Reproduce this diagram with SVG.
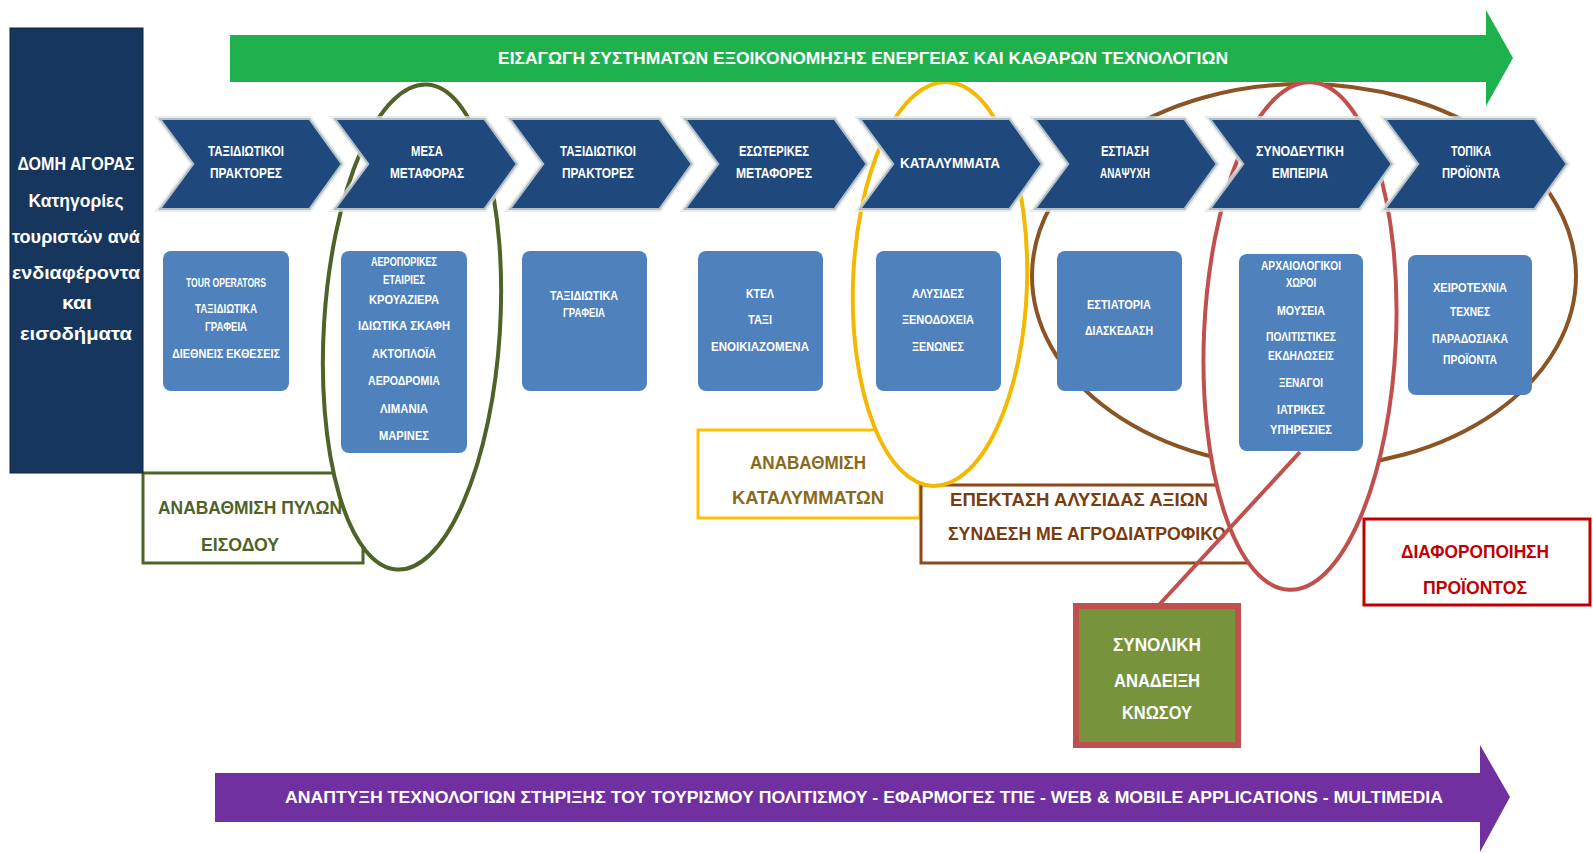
<svg xmlns="http://www.w3.org/2000/svg" width="1593" height="853" viewBox="0 0 1593 853">
<style>
text{font-family:'Liberation Sans',Arial,sans-serif;font-weight:bold;text-anchor:middle}
.chev{fill:#1f497d;stroke:#e3e7e3;stroke-width:4;stroke-opacity:.75}
.ct{font-size:14px;fill:#fff}
.box{fill:#4f81bd}
.bt{font-size:12px;fill:#fff}
.dt{font-size:17.5px;fill:#fff}
.lt{font-size:19px}
.lbl{fill:#fff;stroke-width:3}
.hl{fill:#fff;stroke-width:4}
.at{font-size:16.5px;fill:#fff}
</style>
<rect width="1593" height="853" fill="#fff"/>

<!-- label boxes (behind highlight ellipses) -->
<g id="label-pyles">
<rect class="lbl" x="143" y="473" width="220" height="90" stroke="#4f6228"/>
<text class="lt" fill="#4f6228" x="250" y="514" textLength="184" lengthAdjust="spacingAndGlyphs">ΑΝΑΒΑΘΜΙΣΗ ΠΥΛΩΝ</text>
<text class="lt" fill="#4f6228" x="240" y="551" textLength="78" lengthAdjust="spacingAndGlyphs">ΕΙΣΟΔΟΥ</text>
</g>
<g id="label-katalymata">
<rect class="lbl" x="698" y="430" width="222" height="88" stroke="#ffc000"/>
<text class="lt" fill="#8a6a1a" x="808" y="469" textLength="116" lengthAdjust="spacingAndGlyphs">ΑΝΑΒΑΘΜΙΣΗ</text>
<text class="lt" fill="#8a6a1a" x="808" y="504" textLength="152" lengthAdjust="spacingAndGlyphs">ΚΑΤΑΛΥΜΜΑΤΩΝ</text>
</g>
<g id="label-alysida">
<rect class="lbl" x="921" y="485" width="340" height="78" stroke="#8c4a18"/>
<text class="lt" fill="#7b3b0f" x="1079" y="506" textLength="258" lengthAdjust="spacingAndGlyphs">ΕΠΕΚΤΑΣΗ ΑΛΥΣΙΔΑΣ ΑΞΙΩΝ</text>
<text class="lt" fill="#7b3b0f" x="1087" y="540" textLength="278" lengthAdjust="spacingAndGlyphs">ΣΥΝΔΕΣΗ ΜΕ ΑΓΡΟΔΙΑΤΡΟΦΙΚΟ</text>
</g>
<g id="label-diaforopoiisi">
<rect class="lbl" x="1364" y="519" width="226" height="86" stroke="#c00000"/>
<text class="lt" fill="#c00000" x="1475" y="558" textLength="148" lengthAdjust="spacingAndGlyphs">ΔΙΑΦΟΡΟΠΟΙΗΣΗ</text>
<text class="lt" fill="#c00000" x="1475" y="594" textLength="104" lengthAdjust="spacingAndGlyphs">ΠΡΟΪΟΝΤΟΣ</text>
</g>

<!-- left header -->
<g id="domi-agoras">
<rect x="10" y="28" width="133" height="445" fill="#17365d" stroke="#0f2440" stroke-width="1"/>
<text class="dt" x="76" y="170" textLength="117" lengthAdjust="spacingAndGlyphs">ΔΟΜΗ ΑΓΟΡΑΣ</text>
<text class="dt" x="76" y="207" textLength="95" lengthAdjust="spacingAndGlyphs">Κατηγορίες</text>
<text class="dt" x="76" y="243" textLength="128" lengthAdjust="spacingAndGlyphs">τουριστών ανά</text>
<text class="dt" x="76" y="279" textLength="128" lengthAdjust="spacingAndGlyphs">ενδιαφέροντα</text>
<text class="dt" x="77" y="309" textLength="30" lengthAdjust="spacingAndGlyphs">και</text>
<text class="dt" x="76" y="340" textLength="112" lengthAdjust="spacingAndGlyphs">εισοδήματα</text>
</g>

<!-- highlight ellipses -->
<g id="highlights">
<ellipse id="hl-olive" class="hl" cx="412" cy="327" rx="88" ry="243" stroke="#4f6228" transform="rotate(3.6 412 327)"/>
<ellipse id="hl-yellow" class="hl" cx="940" cy="284" rx="87" ry="202" stroke="#f5b800" transform="rotate(2 940 284)"/>
<ellipse id="hl-brown" class="hl" cx="1304" cy="276" rx="272" ry="192" stroke="#8b5424"/>
<ellipse id="hl-red" class="hl" cx="1300" cy="336" rx="96" ry="254" stroke="#c0504d" transform="rotate(2.5 1300 336)"/>
</g>

<!-- green arrow -->
<g id="arrow-energy">
<polygon points="230,35 1486,35 1486,10 1513,58 1486,106 1486,82 230,82" fill="#1fb14e"/>
<text class="at" x="863" y="64" textLength="730" lengthAdjust="spacingAndGlyphs">ΕΙΣΑΓΩΓΗ ΣΥΣΤΗΜΑΤΩΝ ΕΞΟΙΚΟΝΟΜΗΣΗΣ ΕΝΕΡΓΕΙΑΣ ΚΑΙ ΚΑΘΑΡΩΝ ΤΕΧΝΟΛΟΓΙΩΝ</text>
</g>

<!-- chevrons -->
<defs>
<polygon id="chv" points="0,118 152,118 185,164 152,210 0,210 34,164"/>
</defs>
<g id="chev-1"><use href="#chv" class="chev" x="158"/>
<text class="ct" x="246" y="156" textLength="76" lengthAdjust="spacingAndGlyphs">ΤΑΞΙΔΙΩΤΙΚΟΙ</text>
<text class="ct" x="246" y="178" textLength="72" lengthAdjust="spacingAndGlyphs">ΠΡΑΚΤΟΡΕΣ</text></g>
<g id="chev-2"><use href="#chv" class="chev" x="333"/>
<text class="ct" x="427" y="156" textLength="32" lengthAdjust="spacingAndGlyphs">ΜΕΣΑ</text>
<text class="ct" x="427" y="178" textLength="74" lengthAdjust="spacingAndGlyphs">ΜΕΤΑΦΟΡΑΣ</text></g>
<g id="chev-3"><use href="#chv" class="chev" x="508"/>
<text class="ct" x="598" y="156" textLength="76" lengthAdjust="spacingAndGlyphs">ΤΑΞΙΔΙΩΤΙΚΟΙ</text>
<text class="ct" x="598" y="178" textLength="72" lengthAdjust="spacingAndGlyphs">ΠΡΑΚΤΟΡΕΣ</text></g>
<g id="chev-4"><use href="#chv" class="chev" x="683"/>
<text class="ct" x="774" y="156" textLength="70" lengthAdjust="spacingAndGlyphs">ΕΣΩΤΕΡΙΚΕΣ</text>
<text class="ct" x="774" y="178" textLength="76" lengthAdjust="spacingAndGlyphs">ΜΕΤΑΦΟΡΕΣ</text></g>
<g id="chev-5"><use href="#chv" class="chev" x="858"/>
<text class="ct" x="950" y="168" textLength="100" lengthAdjust="spacingAndGlyphs">ΚΑΤΑΛΥΜΜΑΤΑ</text></g>
<g id="chev-6"><use href="#chv" class="chev" x="1033"/>
<text class="ct" x="1125" y="156" textLength="48" lengthAdjust="spacingAndGlyphs">ΕΣΤΙΑΣΗ</text>
<text class="ct" x="1125" y="178" textLength="50" lengthAdjust="spacingAndGlyphs">ΑΝΑΨΥΧΗ</text></g>
<g id="chev-7"><use href="#chv" class="chev" x="1208"/>
<text class="ct" x="1300" y="156" textLength="88" lengthAdjust="spacingAndGlyphs">ΣΥΝΟΔΕΥΤΙΚΗ</text>
<text class="ct" x="1300" y="178" textLength="56" lengthAdjust="spacingAndGlyphs">ΕΜΠΕΙΡΙΑ</text></g>
<g id="chev-8"><use href="#chv" class="chev" x="1383"/>
<text class="ct" x="1471" y="156" textLength="40" lengthAdjust="spacingAndGlyphs">ΤΟΠΙΚΑ</text>
<text class="ct" x="1471" y="178" textLength="58" lengthAdjust="spacingAndGlyphs">ΠΡΟΪΟΝΤΑ</text></g>

<!-- blue detail boxes -->
<g id="box-1"><rect class="box" x="163" y="251" width="126" height="140" rx="8"/>
<text class="bt" x="226" y="287" textLength="80" lengthAdjust="spacingAndGlyphs">TOUR OPERATORS</text>
<text class="bt" x="226" y="313" textLength="62" lengthAdjust="spacingAndGlyphs">ΤΑΞΙΔΙΩΤΙΚΑ</text>
<text class="bt" x="226" y="331" textLength="42" lengthAdjust="spacingAndGlyphs">ΓΡΑΦΕΙΑ</text>
<text class="bt" x="226" y="358" textLength="108" lengthAdjust="spacingAndGlyphs">ΔΙΕΘΝΕΙΣ ΕΚΘΕΣΕΙΣ</text></g>
<g id="box-2"><rect class="box" x="341" y="251" width="126" height="202" rx="8"/>
<text class="bt" x="404" y="266" textLength="66" lengthAdjust="spacingAndGlyphs">ΑΕΡΟΠΟΡΙΚΕΣ</text>
<text class="bt" x="404" y="284" textLength="42" lengthAdjust="spacingAndGlyphs">ΕΤΑΙΡΙΕΣ</text>
<text class="bt" x="404" y="304" textLength="70" lengthAdjust="spacingAndGlyphs">ΚΡΟΥΑΖΙΕΡΑ</text>
<text class="bt" x="404" y="330" textLength="92" lengthAdjust="spacingAndGlyphs">ΙΔΙΩΤΙΚΑ ΣΚΑΦΗ</text>
<text class="bt" x="404" y="358" textLength="64" lengthAdjust="spacingAndGlyphs">ΑΚΤΟΠΛΟΪΑ</text>
<text class="bt" x="404" y="385" textLength="72" lengthAdjust="spacingAndGlyphs">ΑΕΡΟΔΡΟΜΙΑ</text>
<text class="bt" x="404" y="413" textLength="48" lengthAdjust="spacingAndGlyphs">ΛΙΜΑΝΙΑ</text>
<text class="bt" x="404" y="440" textLength="50" lengthAdjust="spacingAndGlyphs">ΜΑΡΙΝΕΣ</text></g>
<g id="box-3"><rect class="box" x="522" y="251" width="125" height="140" rx="8"/>
<text class="bt" x="584" y="300" textLength="68" lengthAdjust="spacingAndGlyphs">ΤΑΞΙΔΙΩΤΙΚΑ</text>
<text class="bt" x="584" y="317" textLength="42" lengthAdjust="spacingAndGlyphs">ΓΡΑΦΕΙΑ</text></g>
<g id="box-4"><rect class="box" x="698" y="251" width="125" height="140" rx="8"/>
<text class="bt" x="760" y="298" textLength="28" lengthAdjust="spacingAndGlyphs">ΚΤΕΛ</text>
<text class="bt" x="760" y="324" textLength="24" lengthAdjust="spacingAndGlyphs">ΤΑΞΙ</text>
<text class="bt" x="760" y="351" textLength="98" lengthAdjust="spacingAndGlyphs">ΕΝΟΙΚΙΑΖΟΜΕΝΑ</text></g>
<g id="box-5"><rect class="box" x="876" y="251" width="125" height="140" rx="8"/>
<text class="bt" x="938" y="298" textLength="52" lengthAdjust="spacingAndGlyphs">ΑΛΥΣΙΔΕΣ</text>
<text class="bt" x="938" y="324" textLength="72" lengthAdjust="spacingAndGlyphs">ΞΕΝΟΔΟΧΕΙΑ</text>
<text class="bt" x="938" y="351" textLength="52" lengthAdjust="spacingAndGlyphs">ΞΕΝΩΝΕΣ</text></g>
<g id="box-6"><rect class="box" x="1057" y="251" width="125" height="140" rx="8"/>
<text class="bt" x="1119" y="309" textLength="64" lengthAdjust="spacingAndGlyphs">ΕΣΤΙΑΤΟΡΙΑ</text>
<text class="bt" x="1119" y="335" textLength="68" lengthAdjust="spacingAndGlyphs">ΔΙΑΣΚΕΔΑΣΗ</text></g>
<g id="box-7"><rect class="box" x="1239" y="254" width="124" height="197" rx="8"/>
<text class="bt" x="1301" y="270" textLength="80" lengthAdjust="spacingAndGlyphs">ΑΡΧΑΙΟΛΟΓΙΚΟΙ</text>
<text class="bt" x="1301" y="287" textLength="30" lengthAdjust="spacingAndGlyphs">ΧΩΡΟΙ</text>
<text class="bt" x="1301" y="315" textLength="48" lengthAdjust="spacingAndGlyphs">ΜΟΥΣΕΙΑ</text>
<text class="bt" x="1301" y="341" textLength="70" lengthAdjust="spacingAndGlyphs">ΠΟΛΙΤΙΣΤΙΚΕΣ</text>
<text class="bt" x="1301" y="360" textLength="66" lengthAdjust="spacingAndGlyphs">ΕΚΔΗΛΩΣΕΙΣ</text>
<text class="bt" x="1301" y="387" textLength="44" lengthAdjust="spacingAndGlyphs">ΞΕΝΑΓΟΙ</text>
<text class="bt" x="1301" y="414" textLength="48" lengthAdjust="spacingAndGlyphs">ΙΑΤΡΙΚΕΣ</text>
<text class="bt" x="1301" y="434" textLength="62" lengthAdjust="spacingAndGlyphs">ΥΠΗΡΕΣΙΕΣ</text></g>
<g id="box-8"><rect class="box" x="1408" y="255" width="124" height="140" rx="8"/>
<text class="bt" x="1470" y="292" textLength="74" lengthAdjust="spacingAndGlyphs">ΧΕΙΡΟΤΕΧΝΙΑ</text>
<text class="bt" x="1470" y="316" textLength="40" lengthAdjust="spacingAndGlyphs">ΤΕΧΝΕΣ</text>
<text class="bt" x="1470" y="343" textLength="76" lengthAdjust="spacingAndGlyphs">ΠΑΡΑΔΟΣΙΑΚΑ</text>
<text class="bt" x="1470" y="364" textLength="54" lengthAdjust="spacingAndGlyphs">ΠΡΟΪΟΝΤΑ</text></g>

<!-- connector -->
<g id="connectors">
<line x1="1300" y1="452" x2="1158" y2="606" stroke="#c0504d" stroke-width="4"/>
</g>

<g id="knossos">
<rect x="1076" y="606" width="162" height="139" fill="#77933c" stroke="#c0504d" stroke-width="6"/>
<text class="lt" fill="#fff" x="1157" y="651" textLength="88" lengthAdjust="spacingAndGlyphs">ΣΥΝΟΛΙΚΗ</text>
<text class="lt" fill="#fff" x="1157" y="687" textLength="86" lengthAdjust="spacingAndGlyphs">ΑΝΑΔΕΙΞΗ</text>
<text class="lt" fill="#fff" x="1157" y="719" textLength="70" lengthAdjust="spacingAndGlyphs">ΚΝΩΣΟΥ</text>
</g>

<!-- purple arrow -->
<g id="arrow-tech">
<polygon points="215,773 1480,773 1480,745 1510,797 1480,852 1480,822 215,822" fill="#7030a0"/>
<text class="at" x="864" y="803" textLength="1158" lengthAdjust="spacingAndGlyphs">ΑΝΑΠΤΥΞΗ ΤΕΧΝΟΛΟΓΙΩΝ ΣΤΗΡΙΞΗΣ ΤΟΥ ΤΟΥΡΙΣΜΟΥ ΠΟΛΙΤΙΣΜΟΥ - ΕΦΑΡΜΟΓΕΣ ΤΠΕ  - WEB &amp; MOBILE APPLICATIONS  - MULTIMEDIA</text>
</g>
</svg>
